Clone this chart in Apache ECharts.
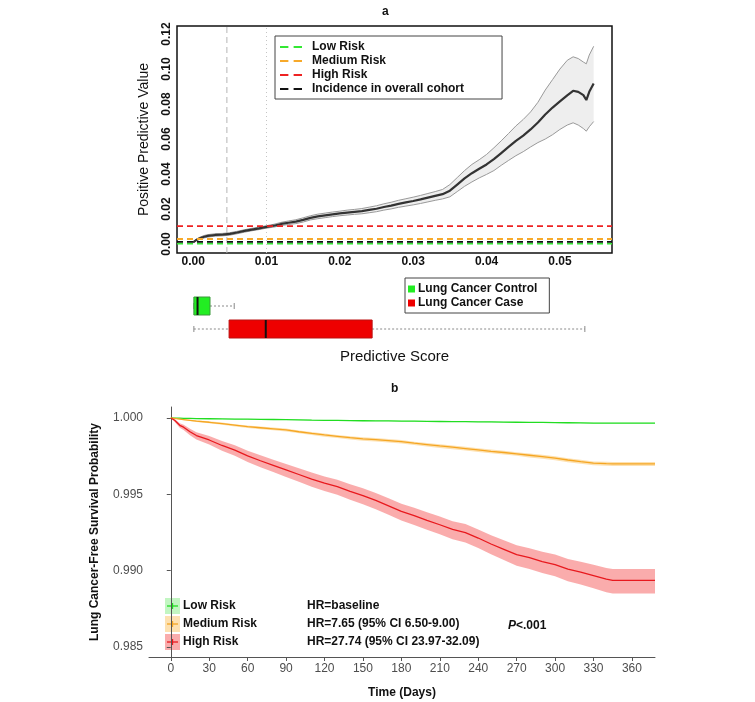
<!DOCTYPE html>
<html>
<head>
<meta charset="utf-8">
<script src="https://cdn.jsdelivr.net/npm/echarts@6/dist/echarts.min.js"></script>
<style>html,body{margin:0;padding:0;background:#fff}#c{width:755px;height:702px}</style>
</head>
<body>
<div id="c"></div>
<script>
// ---------- Panel a: PPV curve ----------
var ppvX    = [0.000,0.0005,0.001,0.0015,0.002,0.003,0.004,0.005,0.006,0.007,0.008,0.009,0.010,0.011,0.012,0.013,0.014,0.015,0.016,0.017,0.018,0.019,0.020,0.021,0.022,0.023,0.024,0.025,0.026,0.027,0.028,0.029,0.030,0.031,0.032,0.033,0.034,0.035,0.036,0.037,0.038,0.039,0.040,0.041,0.042,0.043,0.044,0.045,0.046,0.047,0.048,0.049,0.050,0.051,0.0518,0.0525,0.0532,0.0536,0.0540,0.0546];
var ppvMid  = [0.0010,0.0025,0.0035,0.0042,0.0047,0.0052,0.0054,0.0058,0.0066,0.0075,0.0083,0.0090,0.0098,0.0105,0.0115,0.0122,0.0128,0.0138,0.0150,0.0158,0.0164,0.0170,0.0175,0.0180,0.0184,0.0188,0.0195,0.0202,0.0212,0.0220,0.0230,0.0238,0.0246,0.0255,0.0265,0.0275,0.0285,0.0305,0.0340,0.0375,0.0405,0.0430,0.0455,0.0485,0.0520,0.0555,0.0590,0.0620,0.0655,0.0695,0.0740,0.0780,0.0815,0.0850,0.0876,0.0870,0.0851,0.0823,0.0870,0.0918];
var ppvLow  = [0.0008,0.0020,0.0029,0.0035,0.0040,0.0045,0.0047,0.0051,0.0059,0.0068,0.0076,0.0083,0.0091,0.0097,0.0106,0.0112,0.0117,0.0126,0.0138,0.0145,0.0151,0.0157,0.0162,0.0166,0.0170,0.0173,0.0179,0.0185,0.0194,0.0201,0.0210,0.0217,0.0224,0.0232,0.0241,0.0250,0.0258,0.0270,0.0300,0.0330,0.0355,0.0378,0.0398,0.0420,0.0450,0.0478,0.0505,0.0528,0.0555,0.0580,0.0600,0.0625,0.0655,0.0680,0.0693,0.0680,0.0660,0.0645,0.0670,0.0700];
var ppvHigh = [0.0012,0.0030,0.0041,0.0049,0.0054,0.0059,0.0061,0.0065,0.0073,0.0082,0.0090,0.0097,0.0105,0.0113,0.0124,0.0132,0.0139,0.0150,0.0162,0.0171,0.0177,0.0183,0.0188,0.0194,0.0198,0.0203,0.0211,0.0219,0.0230,0.0239,0.0250,0.0259,0.0268,0.0278,0.0289,0.0300,0.0312,0.0340,0.0380,0.0420,0.0455,0.0482,0.0512,0.0550,0.0590,0.0632,0.0675,0.0712,0.0755,0.0810,0.0880,0.0940,0.1000,0.1050,0.1070,0.1060,0.1040,0.1030,0.1080,0.1130];
var xTicksA = [0, 0.01, 0.02, 0.03, 0.04, 0.05];
var yTicksA = [0, 0.02, 0.04, 0.06, 0.08, 0.10, 0.12];
var riskNames = ['Low Risk', 'Medium Risk', 'High Risk', 'Incidence in overall cohort'];
var riskLevels = [0.0002, 0.0029, 0.0103, 0.0012];
var cutLow = 0.0046, cutHigh = 0.010;

// ---------- Panel a: box plot (min, q1, median, q3, max) ----------
var boxNames = ['Lung Cancer Control', 'Lung Cancer Case'];
var boxStats = [
  [0.0001, 0.0001, 0.0006, 0.0023, 0.0056],
  [0.0001, 0.0049, 0.0099, 0.0244, 0.0534]
];

// ---------- Panel b: survival ----------
var days = [0,3,7,10,15,20,30,40,50,60,70,80,90,100,110,120,130,140,150,160,170,180,190,200,210,220,230,240,250,260,270,280,290,300,310,320,330,340,345,378];
var survLow  = [1.0,0.99999,0.99999,0.99998,0.99997,0.99996,0.99995,0.99994,0.99993,0.99992,0.99991,0.99990,0.99989,0.99988,0.99986,0.99985,0.99984,0.99983,0.99982,0.99981,0.99981,0.99980,0.99979,0.99978,0.99977,0.99976,0.99976,0.99975,0.99974,0.99973,0.99972,0.99971,0.99971,0.99970,0.99969,0.99968,0.99967,0.99967,0.99967,0.99967];
var survMed  = [1.0,0.99997,0.99993,0.99990,0.99985,0.99980,0.99972,0.99963,0.99953,0.99943,0.99936,0.99929,0.99922,0.99910,0.99899,0.99889,0.99880,0.99871,0.99863,0.99858,0.99852,0.99845,0.99835,0.99826,0.99817,0.99809,0.99800,0.99791,0.99782,0.99774,0.99765,0.99756,0.99747,0.99737,0.99725,0.99714,0.99704,0.99701,0.99700,0.99700];
var survHigh = [1.0,0.99985,0.99952,0.99940,0.99910,0.99885,0.99856,0.99820,0.99790,0.99752,0.99720,0.99690,0.99660,0.99630,0.99600,0.99573,0.99550,0.99520,0.99492,0.99460,0.99425,0.99388,0.99360,0.99330,0.99301,0.99270,0.99250,0.99214,0.99175,0.99140,0.99105,0.99085,0.99060,0.99040,0.99010,0.98990,0.98968,0.98945,0.98937,0.98937];
var bandLow  = [0,0.00001,0.00001,0.00001,0.00001,0.00001,0.00002,0.00002,0.00002,0.00002,0.00002,0.00002,0.00002,0.00002,0.00003,0.00003,0.00003,0.00003,0.00003,0.00003,0.00003,0.00003,0.00003,0.00003,0.00003,0.00003,0.00003,0.00003,0.00003,0.00003,0.00003,0.00003,0.00003,0.00003,0.00003,0.00003,0.00003,0.00003,0.00003,0.00003];
var bandMed  = [0,0.00002,0.00003,0.00004,0.00005,0.00006,0.00007,0.00008,0.00008,0.00009,0.00009,0.00010,0.00010,0.00010,0.00011,0.00011,0.00011,0.00011,0.00012,0.00012,0.00012,0.00012,0.00012,0.00012,0.00013,0.00013,0.00013,0.00013,0.00013,0.00013,0.00013,0.00014,0.00014,0.00014,0.00014,0.00014,0.00014,0.00014,0.00014,0.00014];
var bandHigh = [0,0.00010,0.00016,0.00019,0.00023,0.00026,0.00030,0.00034,0.00037,0.00040,0.00042,0.00044,0.00046,0.00048,0.00050,0.00051,0.00053,0.00055,0.00056,0.00058,0.00059,0.00060,0.00061,0.00062,0.00063,0.00064,0.00065,0.00066,0.00068,0.00070,0.00072,0.00074,0.00075,0.00077,0.00079,0.00081,0.00083,0.00086,0.00087,0.00087];
var xTicksB = [0,30,60,90,120,150,180,210,240,270,300,330,360];
var yTicksB = [0.985, 0.990, 0.995, 1.000];
var survNames = ['Low Risk', 'Medium Risk', 'High Risk'];
var hrTexts = ['HR=baseline', 'HR=7.65 (95% CI 6.50-9.00)', 'HR=27.74 (95% CI 23.97-32.09)'];

var FONT = "'Liberation Sans', Arial, sans-serif";
var riskColors = ['#33e833', '#f7a92a', '#ee2222', '#111111'];
var survLine = ['#22dd22', '#f5a623', '#e8191e'];
var survFill = ['rgba(80,230,80,0.35)', 'rgba(250,180,60,0.40)', 'rgba(245,90,90,0.50)'];
var boxFill = ['#22ee22', '#ee0000'];
var boxBorder = ['#3a9a3a', '#bb1111'];

var XA_MIN = -0.0022, XA_MAX = 0.0571, YA_MIN = -0.0051, YA_MAX = 0.1246;

function zip(xs, ys) { return xs.map(function (x, i) { return [x, ys[i]]; }); }

function bandSeries(xIdx, yIdx, xs, lo, hi, color, z) {
  return {
    type: 'custom', xAxisIndex: xIdx, yAxisIndex: yIdx, silent: true, z: z || 1,
    data: [[xs[0], lo[0]]],
    renderItem: function (params, api) {
      var pts = [];
      for (var i = 0; i < xs.length; i++) pts.push(api.coord([xs[i], hi[i]]));
      for (var j = xs.length - 1; j >= 0; j--) pts.push(api.coord([xs[j], lo[j]]));
      return { type: 'polygon', shape: { points: pts }, style: { fill: color, stroke: 'none' } };
    }
  };
}

function boxSeries(k) {
  return {
    name: boxNames[k], type: 'custom', xAxisIndex: 1, yAxisIndex: 1,
    itemStyle: { color: boxFill[k], borderColor: boxBorder[k] },
    data: [[boxStats[k][2], boxNames[k]]],
    renderItem: function (params, api) {
      var s = boxStats[k];
      var cy = api.coord([0, k])[1];
      var h = 18;
      var p = s.map(function (v) { return api.coord([v, k])[0]; });
      var whisk = { stroke: '#8a8a8a', lineWidth: 1, lineDash: [2, 2] };
      var cap = { stroke: '#8a8a8a', lineWidth: 1 };
      return { type: 'group', children: [
        { type: 'line', shape: { x1: p[0], y1: cy, x2: p[1], y2: cy }, style: whisk },
        { type: 'line', shape: { x1: p[3], y1: cy, x2: p[4], y2: cy }, style: whisk },
        { type: 'line', shape: { x1: p[0], y1: cy - 3, x2: p[0], y2: cy + 3 }, style: cap },
        { type: 'line', shape: { x1: p[4], y1: cy - 3, x2: p[4], y2: cy + 3 }, style: cap },
        { type: 'rect', shape: { x: p[1], y: cy - h / 2, width: p[3] - p[1], height: h }, style: { fill: boxFill[k], stroke: boxBorder[k], lineWidth: 1 } },
        { type: 'line', shape: { x1: p[2], y1: cy - h / 2, x2: p[2], y2: cy + h / 2 }, style: { stroke: '#111', lineWidth: 2 } }
      ]};
    }
  };
}

var series = [];
// vertical cut-off lines
series.push({ type: 'line', xAxisIndex: 0, yAxisIndex: 0, data: [[cutLow, YA_MIN], [cutLow, YA_MAX]], showSymbol: false, silent: true, lineStyle: { color: '#b5b5b5', type: [6, 4], width: 1 }, z: 1 });
series.push({ type: 'line', xAxisIndex: 0, yAxisIndex: 0, data: [[cutHigh, YA_MIN], [cutHigh, YA_MAX]], showSymbol: false, silent: true, lineStyle: { color: '#c5c5c5', type: [1, 3], width: 1 }, z: 1 });
// panel a band + lines
series.push(bandSeries(0, 0, ppvX, ppvLow, ppvHigh, '#eeeeee', 1));
series.push({ type: 'line', xAxisIndex: 0, yAxisIndex: 0, data: zip(ppvX, ppvHigh), showSymbol: false, silent: true, lineStyle: { color: '#9a9a9a', width: 1 }, z: 2 });
series.push({ type: 'line', xAxisIndex: 0, yAxisIndex: 0, data: zip(ppvX, ppvLow), showSymbol: false, silent: true, lineStyle: { color: '#9a9a9a', width: 1 }, z: 2 });
series.push({ type: 'line', xAxisIndex: 0, yAxisIndex: 0, data: zip(ppvX, ppvMid), showSymbol: false, silent: true, lineStyle: { color: '#333', width: 2.2 }, z: 3 });
// horizontal risk thresholds (draw order: low, medium, high, incidence)
riskNames.forEach(function (nm, i) {
  series.push({
    name: nm, type: 'line', xAxisIndex: 0, yAxisIndex: 0, color: riskColors[i], z: 4,
    data: [[XA_MIN, riskLevels[i]], [XA_MAX, riskLevels[i]]], showSymbol: false, silent: true,
    lineStyle: { color: riskColors[i], type: [6, 4], width: 1.8 }
  });
});
// box plots
series.push(boxSeries(0));
series.push(boxSeries(1));
// panel b
for (var r = 0; r < 3; r++) {
  (function (r) {
    var ser = [survLow, survMed, survHigh][r];
    var bw = [bandLow, bandMed, bandHigh][r];
    var lo = ser.map(function (v, i) { return v - bw[i]; });
    var hi = ser.map(function (v, i) { return Math.min(1, v + bw[i] * 0.85); });
    series.push(bandSeries(2, 2, days, lo, hi, survFill[r], 1));
    series.push({ type: 'line', xAxisIndex: 2, yAxisIndex: 2, data: zip(days, ser), showSymbol: false, silent: true, lineStyle: { color: survLine[r], width: 1.3 }, z: 3 });
  })(r);
}

// panel b legend via graphics
var gfx = [];
var legY = [598, 616, 634];
for (var g = 0; g < 3; g++) {
  gfx.push({ type: 'rect', shape: { x: 165, y: legY[g], width: 15, height: 16 }, style: { fill: survFill[g] } });
  gfx.push({ type: 'line', shape: { x1: 167, y1: legY[g] + 8, x2: 178, y2: legY[g] + 8 }, style: { stroke: survLine[g], lineWidth: 1.3 } });
  gfx.push({ type: 'line', shape: { x1: 172.5, y1: legY[g] + 5, x2: 172.5, y2: legY[g] + 11 }, style: { stroke: survLine[g], lineWidth: 1.3 } });
  gfx.push({ type: 'text', x: 183, y: legY[g] + 8, style: { text: survNames[g], font: 'bold 12px ' + FONT, fill: '#111', verticalAlign: 'middle' } });
  gfx.push({ type: 'text', x: 307, y: legY[g] + 8, style: { text: hrTexts[g], font: 'bold 12px ' + FONT, fill: '#111', verticalAlign: 'middle' } });
}
gfx.push({ type: 'text', x: 508, y: 626, style: { text: '{i|P}{b|<.001}', rich: { i: { font: 'italic bold 12px ' + FONT, fill: '#111' }, b: { font: 'bold 12px ' + FONT, fill: '#111' } }, verticalAlign: 'middle' } });

var option = {
  animation: false,
  backgroundColor: '#fff',
  textStyle: { fontFamily: FONT },
  title: [
    { text: 'a', left: 377, top: 1, textStyle: { fontSize: 12, fontWeight: 'bold', color: '#111', fontFamily: FONT } },
    { text: 'b', left: 386, top: 378, textStyle: { fontSize: 12, fontWeight: 'bold', color: '#111', fontFamily: FONT } }
  ],
  legend: [
    {
      data: riskNames, left: 275, top: 36, orient: 'vertical', itemGap: 0,
      itemWidth: 22, itemHeight: 3, icon: 'path://M0,0H8V2H0Z M13,0H21V2H13Z',
      borderColor: '#444', borderWidth: 1, padding: [4, 38, 3, 5],
      textStyle: { fontSize: 12, fontWeight: 'bold', color: '#111', fontFamily: FONT, lineHeight: 14, padding: [0, 0, 0, 5] },
      selectedMode: false
    },
    {
      data: boxNames, left: 405, top: 278, orient: 'vertical', itemGap: 2,
      itemWidth: 7, itemHeight: 7, icon: 'rect',
      borderColor: '#444', borderWidth: 1, padding: [5, 12, 4, 3],
      textStyle: { fontSize: 12, fontWeight: 'bold', color: '#111', fontFamily: FONT, padding: [0, 0, 0, -2] },
      selectedMode: false
    }
  ],
  grid: [
    { left: 177, top: 26, width: 435, height: 227, show: true, borderColor: '#111', borderWidth: 1.5, backgroundColor: 'transparent' },
    { left: 177, top: 294.5, width: 435, height: 46 },
    { left: 149, top: 407, width: 506, height: 250 }
  ],
  xAxis: [
    { type: 'value', gridIndex: 0, min: XA_MIN, max: XA_MAX,
      axisLine: { show: false }, axisTick: { show: false }, splitLine: { show: false },
      axisLabel: { customValues: xTicksA, formatter: function (v) { return v.toFixed(2); }, fontSize: 12, fontWeight: 'bold', color: '#111', margin: 3 } },
    { type: 'value', gridIndex: 1, min: XA_MIN, max: XA_MAX,
      axisLine: { show: false }, axisTick: { show: false }, splitLine: { show: false }, axisLabel: { show: false },
      name: 'Predictive Score', nameLocation: 'middle', nameGap: 9, nameTextStyle: { fontSize: 15, color: '#111', fontFamily: FONT } },
    { type: 'value', gridIndex: 2, min: -17, max: 378,
      axisLine: { show: true, lineStyle: { color: '#555', width: 1 } },
      axisTick: { show: true, customValues: xTicksB, length: 4, lineStyle: { color: '#555' } },
      splitLine: { show: false },
      axisLabel: { customValues: xTicksB, fontSize: 12, color: '#4d4d4d', margin: 6 },
      name: 'Time (Days)', nameLocation: 'middle', nameGap: 30, nameTextStyle: { fontSize: 12, fontWeight: 'bold', color: '#111', fontFamily: FONT } }
  ],
  yAxis: [
    { type: 'value', gridIndex: 0, min: YA_MIN, max: YA_MAX,
      axisLine: { show: false }, axisTick: { show: false }, splitLine: { show: false },
      axisLabel: { customValues: yTicksA, rotate: 90, formatter: function (v) { return v.toFixed(2); }, fontSize: 12, fontWeight: 'bold', color: '#111', margin: 4 },
      name: 'Positive Predictive Value', nameLocation: 'middle', nameGap: 26, nameTextStyle: { fontSize: 14, color: '#111', fontFamily: FONT } },
    { type: 'category', gridIndex: 1, data: boxNames, inverse: true, show: false },
    { type: 'value', gridIndex: 2, min: 0.98435, max: 1.00072,
      axisLine: { show: true, lineStyle: { color: '#555', width: 1 } },
      axisTick: { show: true, customValues: yTicksB, length: 4, lineStyle: { color: '#555' } },
      splitLine: { show: false },
      axisLabel: { customValues: yTicksB, formatter: function (v) { return v.toFixed(3); }, fontSize: 12, color: '#4d4d4d', margin: 6 },
      name: 'Lung Cancer-Free Survival Probability', nameLocation: 'middle', nameGap: 48, nameTextStyle: { fontSize: 12, fontWeight: 'bold', color: '#111', fontFamily: FONT } }
  ],
  graphic: gfx,
  series: series
};
var chart = echarts.init(document.getElementById('c'), null, { renderer: 'canvas' });
chart.setOption(option);
</script>
</body>
</html>
